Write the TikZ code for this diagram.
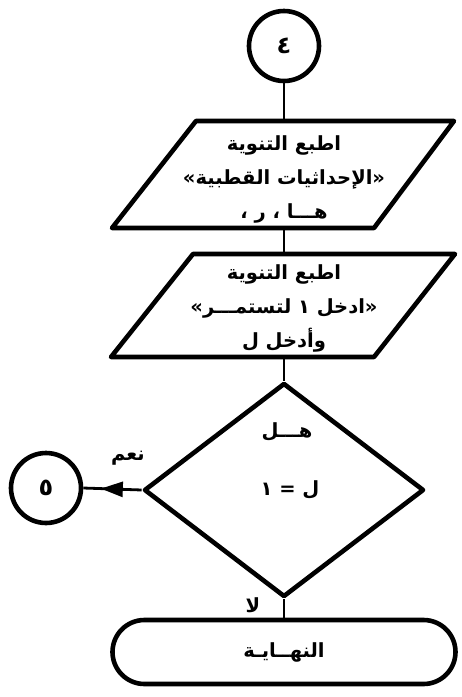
\documentclass[tikz,border=0pt]{standalone}
\usepackage{fontspec}
\newfontfamily\arabicfont[Script=Arabic]{DejaVu Sans}
\TeXXeTstate=1
\usetikzlibrary{shapes.geometric,shapes.misc,arrows.meta,decorations.markings}
\newcommand{\ar}[1]{\beginR #1\endR}
\begin{document}
\begin{tikzpicture}[x=1pt,y=-1pt,
  every node/.style={font=\arabicfont\bfseries\fontsize{19.5}{34}\selectfont, inner sep=0pt},
  shapeline/.style={line width=4.6pt, line join=round},
  conn/.style={line width=2.8pt},
  connector/.style={circle, draw, shapeline, minimum size=70pt, inner sep=0pt,
      font=\arabicfont\bfseries\fontsize{24}{28}\selectfont},
  midarrow/.style={postaction={decorate}, decoration={markings,
      mark=at position 0.70 with {\arrow{Triangle[length=22pt,width=15pt]}}}}]
\fill[white] (0,0) rectangle (462,697);
\useasboundingbox (0,0) rectangle (462,697);

% connector 4
\node[connector] (c4) at (284,46) {٤};

% output box 1
\draw[shapeline] (196,121) -- (454,121) -- (374,228) -- (112,228) -- cycle;
\coordinate (p1t) at (284,121);
\coordinate (p1b) at (284,228);
\node[align=center] (t1) at (284,179)
  {\ar{اطبع التنوية}\\ \ar{«الإحداثيات القطبية»}\\ \ar{هـــا ، ر ،}};

% output/input box 2
\draw[shapeline] (193,254) -- (455,254) -- (374,357) -- (111,357) -- cycle;
\coordinate (p2t) at (284,254);
\coordinate (p2b) at (284,357);
\node[align=center] (t2) at (284,308)
  {\ar{اطبع التنوية}\\ \ar{«ادخل ١ لتستمـــر»}\\ \ar{وأدخل ل}};

% decision
\node[diamond, draw, shapeline, minimum width=280pt, minimum height=214pt] (dec) at (284,490) {};
\node (q1) at (287,432) {\ar{هـــل}};
\node (q2) at (290,490) {\ar{ل = ١}};

% connector 5
\node[connector] (c5) at (46,488) {٥};

% terminator
\node[rounded rectangle, draw, shapeline, minimum width=343pt, minimum height=64pt] (end) at (284,652) {\ar{النهــايـة}};

% labels
\node (yes) at (128,458) {\ar{نعم}};
\node (no) at (253,605) {\ar{لا}};

% connectors
\draw[conn] (c4) -- (p1t);
\draw[conn] (p1b) -- (p2t);
\draw[conn] (p2b) -- (dec.north);
\draw[conn] (dec.south) -- (end.north);
\draw[conn, midarrow] (dec.west) -- (c5.east);
\end{tikzpicture}
\end{document}
